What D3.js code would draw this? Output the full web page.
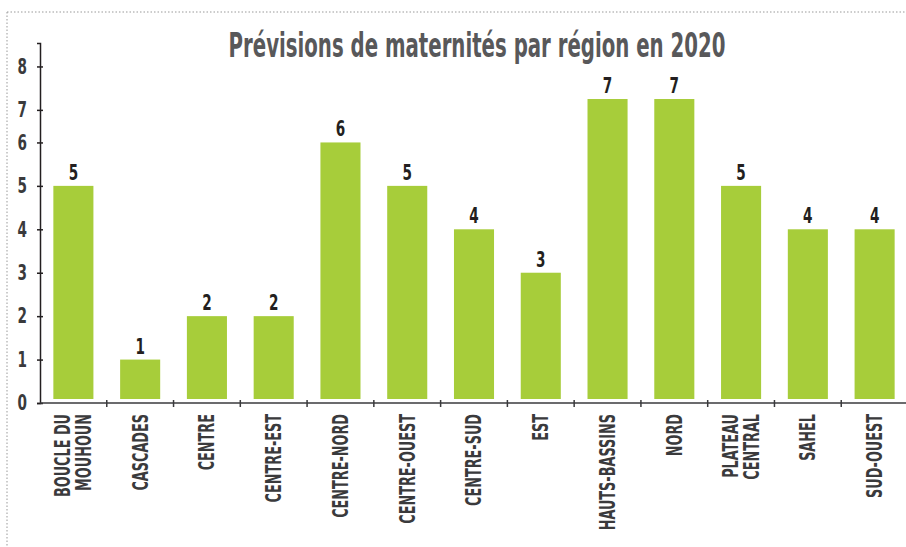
<!DOCTYPE html>
<html>
<head>
<meta charset="utf-8">
<script src="https://cdn.jsdelivr.net/npm/d3@7"></script>
<style>
  body { margin: 0; background: #fff; }
  svg text { font-family: "DejaVu Sans Condensed", "DejaVu Sans", sans-serif; font-stretch: condensed; font-weight: bold; }
</style>
</head>
<body>
<div id="chart"></div>
<script>
// data
var regions = ["BOUCLE DU\nMOUHOUN", "CASCADES", "CENTRE", "CENTRE-EST", "CENTRE-NORD", "CENTRE-OUEST",
               "CENTRE-SUD", "EST", "HAUTS-BASSINS", "NORD", "PLATEAU\nCENTRAL", "SAHEL", "SUD-OUEST"];
var maternites = [5, 1, 2, 2, 6, 5, 4, 3, 7, 7, 5, 4, 4];
// the original axis places labels 7 and 8 slightly off the bar scale
var tickPositions = [0, 1, 2, 3, 4, 5, 6, 6.75, 7.75];
var tickLabels = ["0", "1", "2", "3", "4", "5", "6", "7", "8"];
var title = "Prévisions de maternités par région en 2020";

var W = 906, H = 547;
var narrow = 0.72; // squeeze glyphs horizontally, no narrow font installed

var svg = d3.select("#chart").append("svg")
    .attr("width", W)
    .attr("height", H);

// dotted frame (top + left)
svg.append("line")
    .attr("x1", 7).attr("x2", W).attr("y1", 12).attr("y2", 12)
    .attr("stroke", "#999").attr("stroke-width", 1).attr("stroke-dasharray", "1.5,2");
svg.append("line")
    .attr("x1", 7).attr("x2", 7).attr("y1", 12).attr("y2", H)
    .attr("stroke", "#999").attr("stroke-width", 1).attr("stroke-dasharray", "1.5,2");

var x0 = 40, y0 = 403;

var x = d3.scaleBand()
    .domain(d3.range(regions.length))
    .range([x0, 908])
    .paddingInner(0.4)
    .paddingOuter(0.2);

var y = d3.scaleLinear()
    .domain([0, 8.29])
    .range([y0, 43]);

// title
svg.append("text")
    .attr("transform", "translate(477,57) scale(0.665,1)")
    .attr("text-anchor", "middle")
    .style("font-size", "33px")
    .style("fill", "#58585a")
    .text(title);

// bars
svg.selectAll(".bar")
  .data(maternites)
  .enter()
  .append("rect")
    .attr("class", "bar")
    .attr("x", function(d, i) { return x(i); })
    .attr("width", x.bandwidth())
    .attr("y", function(d) { return y(d); })
    .attr("height", function(d) { return y(0) - y(d) - 4; })
    .style("fill", "#a7cd3a");

// value labels
svg.selectAll(".val")
  .data(maternites)
  .enter()
  .append("text")
    .attr("class", "val")
    .attr("transform", function(d, i) {
      return "translate(" + (x(i) + x.bandwidth() / 2) + "," + (y(d) - 6) + ") scale(" + narrow + ",1)";
    })
    .attr("text-anchor", "middle")
    .style("font-size", "21px")
    .style("fill", "#231f20")
    .text(function(d) { return d; });

// y axis
var yAxis = svg.append("g")
    .attr("transform", "translate(" + x0 + ",0)")
    .call(d3.axisLeft(y)
      .tickValues(tickPositions)
      .tickFormat(function(d, i) { return tickLabels[i]; })
      .tickSizeOuter(0)
      .tickSize(3));
yAxis.select(".domain").attr("stroke", "#231f20").attr("stroke-width", 1.5);
yAxis.selectAll(".tick line").attr("x1", 3).attr("x2", -3).attr("stroke", "#231f20").attr("stroke-width", 1.5);
yAxis.selectAll(".tick text")
    .attr("x", 0)
    .attr("transform", "translate(-13,0) scale(" + narrow + ",1)")
    .style("font-size", "21px")
    .style("font-family", null)
    .style("fill", "#3a3a3c");

// x axis line
svg.append("line")
    .attr("x1", x0).attr("x2", W).attr("y1", y0).attr("y2", y0)
    .attr("stroke", "#3a3a3c").attr("stroke-width", 1.5);

// separators between bands
svg.selectAll(".sep")
  .data(d3.range(regions.length - 1))
  .enter()
  .append("line")
    .attr("class", "sep")
    .attr("x1", function(i) { return x(i) + x.bandwidth() + x.step() * x.paddingInner() / 2; })
    .attr("x2", function(i) { return x(i) + x.bandwidth() + x.step() * x.paddingInner() / 2; })
    .attr("y1", y0 - 3).attr("y2", y0 + 4)
    .attr("stroke", "#3a3a3c").attr("stroke-width", 1.5);

// category labels, rotated
var labels = svg.selectAll(".cat")
  .data(regions)
  .enter()
  .append("text")
    .attr("class", "cat")
    .attr("transform", function(d, i) {
      return "translate(" + (x(i) + x.bandwidth() / 2) + "," + (y0 + 11) + ") rotate(-90) scale(0.68,1)";
    })
    .attr("text-anchor", "end")
    .style("font-size", "21px")
    .style("fill", "#3a3a3c");

labels.each(function(d) {
  var lines = d.split("\n");
  var t = d3.select(this);
  var start = -(lines.length - 1) * 0.5;
  lines.forEach(function(l, k) {
    t.append("tspan")
      .attr("x", 0)
      .attr("dy", k === 0 ? (start + 0.35) + "em" : "1.0em")
      .text(l);
  });
});
</script>
</body>
</html>
